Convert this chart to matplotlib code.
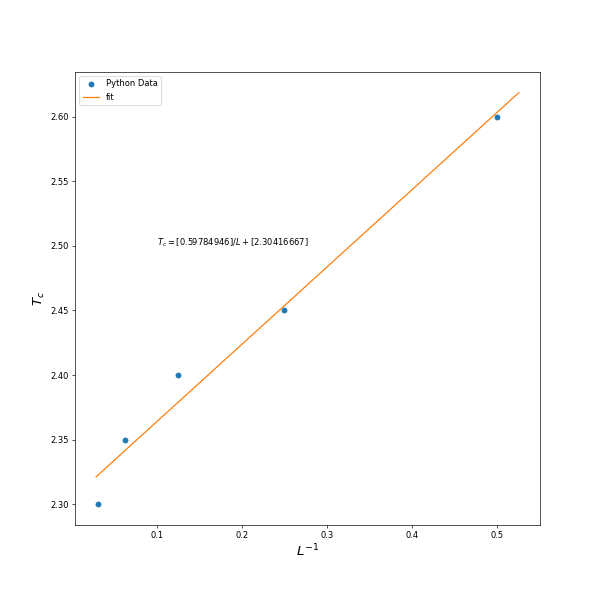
import numpy as np
import matplotlib
matplotlib.use("Agg")
import matplotlib.pyplot as plt

inv_L = [1/32, 1/16, 1/8, 1/4, 1/2]
Tc = [2.30, 2.35, 2.40, 2.45, 2.60]
fit_start = 0.0288
fit_end = 0.5258


def main():
    coeff = np.polyfit(inv_L, Tc, 1)
    xfit = np.linspace(fit_start, fit_end, 100)
    yfit = np.polyval(coeff, xfit)

    fig = plt.figure(figsize=(10, 10), dpi=60)
    ax = fig.add_subplot(111)
    fig.subplots_adjust(left=0.125, right=0.9, bottom=0.125, top=0.88)
    ax.plot(inv_L, Tc, "o", label="Python Data")
    ax.plot(xfit, yfit, label="fit")
    ax.text(0.1, 2.5, r"$T_c = $[%.8f]$/L + $[%.8f]" % (coeff[0], coeff[1]))
    ax.set_xlabel(r"$L^{-1}$", fontsize=16)
    ax.set_ylabel(r"$T_c$", fontsize=16)
    ax.legend(loc="upper left")
    fig.savefig("out.png", dpi=60)


if __name__ == '__main__':
    main()
